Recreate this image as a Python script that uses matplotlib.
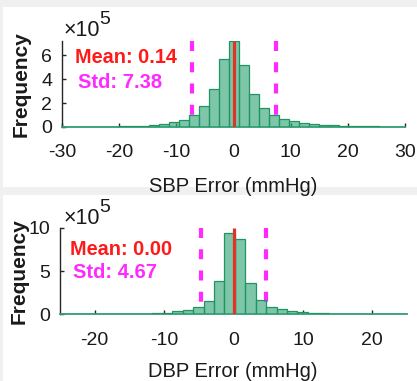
import numpy as np
import matplotlib
matplotlib.use("Agg")
import matplotlib.pyplot as plt
from matplotlib.patches import Rectangle

plt.rcParams['font.family'] = ['Liberation Sans', 'DejaVu Sans']

# ---------------- data ----------------
sbp_first_edge = -30.5
sbp_bin_width = 1.75
sbp_counts = [0.0, 0.0, 0.01, 0.02, 0.03, 0.04, 0.06, 0.08, 0.12, 0.17, 0.25, 0.38,
              0.62, 0.97, 1.72, 3.19, 5.69, 7.17, 5.19, 2.78, 1.60, 1.00, 0.67, 0.47,
              0.33, 0.25, 0.19, 0.14, 0.10, 0.08, 0.06, 0.05, 0.04, 0.03, 0.02]
sbp_mean = 0.14
sbp_std = 7.38

dbp_first_edge = -25.3
dbp_bin_width = 1.5
dbp_counts = [0.0, 0.0, 0.0, 0.0, 0.005, 0.01, 0.03, 0.05, 0.08, 0.13, 0.20, 0.33,
              0.55, 0.85, 1.58, 3.85, 9.42, 8.69, 3.65, 1.60, 0.90, 0.58, 0.38, 0.25,
              0.16, 0.11, 0.08, 0.05, 0.03, 0.02, 0.01, 0.01, 0.005, 0.0]
dbp_mean = 0.00
dbp_std = 4.67

sbp_xticks = [-30, -20, -10, 0, 10, 20, 30]
sbp_yticks = [0, 2, 4, 6]
dbp_xticks = [-20, -10, 0, 10, 20]
dbp_yticks = [0, 5, 10]

W, H = 417, 381
fig = plt.figure(figsize=(W / 100, H / 100), dpi=100)
fig.patch.set_facecolor('#f0f0f0')

# white panels
fig.patches.append(Rectangle((3 / W, 1 - 187 / H), 1, (187 - 7) / H, transform=fig.transFigure,
                             facecolor='white', edgecolor='none', zorder=-10))
fig.patches.append(Rectangle((3 / W, 0), 1, 1 - 195 / H, transform=fig.transFigure,
                             facecolor='white', edgecolor='none', zorder=-10))

face = (0.22, 0.66, 0.48, 0.65)
edge = (0.13, 0.58, 0.40)
red_line = (0.88, 0.2, 0.16)
mag = '#ff2aff'
dark = '#1a1a1a'


def px_axes(l, r, t, b):
    return [l / W, 1 - b / H, (r - l) / W, (b - t) / H]


def panel(rect, first_edge, bw, counts, mean, std, xlim, ylim, xticks, yticks,
          xlabel, xlabel_y, ylab_x, mean_txt, std_txt, mean_xy, std_xy, exp_xy, xpad):
    ax = fig.add_axes(rect)
    counts = np.asarray(counts)
    lefts = first_edge + bw * np.arange(len(counts))
    ax.bar(lefts, counts, width=bw, align='edge', color=face, edgecolor=edge,
           linewidth=0.9, zorder=3)
    top = ylim[1]
    for xv in (mean - std, mean + std):
        ax.plot([xv, xv], [top, 0], color=mag, lw=3.0, dashes=(2.4, 2.7),
                solid_capstyle='butt', dash_capstyle='butt', zorder=2)
    ax.plot([mean, mean], [0, top], color=red_line, lw=2.3, zorder=4,
            solid_capstyle='butt')
    ax.set_xlim(*xlim)
    ax.set_ylim(*ylim)
    ax.set_xticks(xticks)
    ax.set_xticklabels([str(v) for v in xticks])
    ax.set_yticks(yticks)
    ax.set_yticklabels([str(v) for v in yticks])
    for s in ('top', 'right'):
        ax.spines[s].set_visible(False)
    ax.spines['left'].set_color('#262626')
    ax.spines['left'].set_linewidth(1.0)
    ax.spines['bottom'].set_color((0.2, 0.62, 0.45))
    ax.spines['bottom'].set_linewidth(1.3)
    ax.tick_params(direction='in', length=3, width=1, color='#262626',
                   labelsize=14, labelcolor=dark)
    ax.tick_params(axis='x', pad=xpad)
    ax.tick_params(axis='y', pad=7)
    fig.text(233 / W, 1 - xlabel_y / H, xlabel, ha='center', va='baseline',
             fontsize=14.5, color=dark)
    fig.text(ylab_x / W, (rect[1] + rect[3] / 2), 'Frequency', rotation=90,
             ha='center', va='center', fontsize=15, fontweight='bold', color=dark)
    fig.text(mean_xy[0] / W, 1 - mean_xy[1] / H, mean_txt, color='#ff1a1a',
             fontsize=14.3, fontweight='bold', ha='left', va='baseline')
    fig.text(std_xy[0] / W, 1 - std_xy[1] / H, std_txt, color=mag,
             fontsize=14.5, fontweight='bold', ha='left', va='baseline')
    fig.text(exp_xy[0] / W, 1 - exp_xy[1] / H, '\u00d710', color=dark,
             fontsize=15.5, ha='left', va='baseline')
    fig.text((exp_xy[0] + 35) / W, 1 - (exp_xy[1] - 12) / H, '5', color=dark,
             fontsize=14, ha='left', va='baseline')
    return ax


panel(px_axes(62, 405, 40.7, 127), sbp_first_edge, sbp_bin_width, sbp_counts,
      sbp_mean, sbp_std, (-30, 30), (0, 7.2), sbp_xticks, sbp_yticks,
      'SBP Error (mmHg)', 192, 21,
      'Mean: %.2f' % sbp_mean, 'Std: %.2f' % sbp_std, (75, 63), (78, 88), (64, 36), 12)

panel(px_axes(60, 407, 227.7, 314.3), dbp_first_edge, dbp_bin_width, dbp_counts,
      dbp_mean, dbp_std, (-25, 25), (0, 10), dbp_xticks, dbp_yticks,
      'DBP Error (mmHg)', 377, 19,
      'Mean: %.2f' % dbp_mean, 'Std: %.2f' % dbp_std, (70, 255), (73, 278), (64, 224), 13)

fig.savefig('out.png', dpi=100, facecolor=fig.get_facecolor())
